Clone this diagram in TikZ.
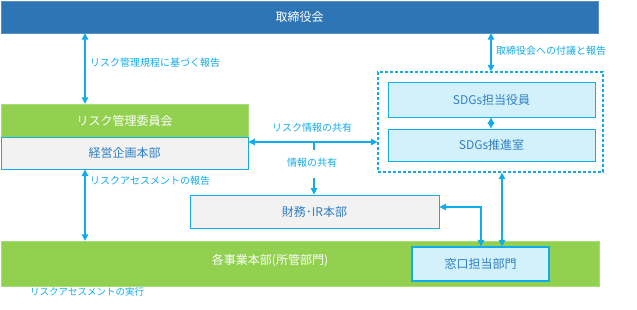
\documentclass[tikz,border=0pt]{standalone}
\usepackage{fontspec}
\setmainfont{Noto Sans CJK JP}
\usetikzlibrary{arrows.meta}
\definecolor{topblue}{HTML}{2E75B6}
\definecolor{grn}{HTML}{92D050}
\definecolor{grnb}{HTML}{A9DC78}
\definecolor{cyanl}{HTML}{12ACEB}
\definecolor{lblue}{HTML}{D3F1FB}
\definecolor{gry}{HTML}{F2F2F2}
\definecolor{txtb}{HTML}{2F7FC4}
\tikzset{
  box/.style={draw, rectangle, inner sep=0pt, font=\fontsize{12}{14}\selectfont},
  wbox/.style={box, text=white},
  bbox/.style={box, text=txtb},
  lab/.style={font=\fontsize{10}{12}\selectfont, text=cyanl, inner sep=0pt},
  conn/.style={draw=cyanl, line width=1.2pt},
  dbl/.style={conn, {Triangle[width=6.5pt,length=6.5pt]}-{Triangle[width=6.5pt,length=6.5pt]}},
  sgl/.style={conn, -{Triangle[width=6.5pt,length=6.5pt]}},
}
\begin{document}
\begin{tikzpicture}[x=1pt,y=-1pt]
\useasboundingbox[fill=white] (0,0) rectangle (637,309);
% boxes
\node[wbox, fill=topblue, draw=topblue!80!white, minimum width=597pt, minimum height=32pt] (board) at (299.5,17) {取締役会};
\node[wbox, fill=grn, draw=grnb, minimum width=247pt, minimum height=33pt] (rmc) at (124.5,120.5) {リスク管理委員会};
\node[bbox, fill=gry, draw=cyanl, line width=1pt, minimum width=247pt, minimum height=32pt] (keiei) at (124.5,153) {経営企画本部};
\node[draw=cyanl, dashed, dash pattern=on 3pt off 2pt, line width=1.2pt, rectangle, minimum width=225pt, minimum height=100pt, inner sep=0pt] (dash) at (490.5,122) {};
\node[bbox, fill=lblue, draw=cyanl, line width=1pt, minimum width=207pt, minimum height=35pt] (sdg1) at (491.5,99.5) {SDGs担当役員};
\node[bbox, fill=lblue, draw=cyanl, line width=1pt, minimum width=207pt, minimum height=32pt] (sdg2) at (491.5,145) {SDGs推進室};
\node[bbox, fill=gry, draw=cyanl, line width=1pt, minimum width=249pt, minimum height=33pt] (zaimu) at (314.5,211.5) {財務･IR本部};
\node[box, fill=grn, draw=grnb, minimum width=598pt, minimum height=45pt] (jigyo) at (300,263.5) {};
\node[text=white, font=\fontsize{12}{14}\selectfont, inner sep=0pt] (jigyot) at (270,261) {各事業本部(所管部門)};
\node[bbox, fill=lblue, draw=cyanl, line width=1.2pt, minimum width=137pt, minimum height=34pt] (mado) at (480.5,264) {窓口担当部門};
% helper coordinates
\coordinate (xL) at (85,0);
\coordinate (xR) at (491,0);
\coordinate (yA) at (0,142);
\coordinate (br) at (314,142);
\coordinate (brend) at (314,150);
\coordinate (brstart) at (314,178);
\coordinate (yZ) at (0,207);
\coordinate (xM) at (481,0);
\coordinate (xN) at (502,0);
% labels
\node[lab, anchor=west] (l1) at (90,63) {リスク管理規程に基づく報告};
\node[lab, anchor=west] (l2) at (496,51) {取締役会への付議と報告};
\node[lab] (l3) at (312,128) {リスク情報の共有};
\node[lab] (info) at (312,163) {情報の共有};
\node[lab, anchor=west] (l5) at (90,181) {リスクアセスメントの報告};
\node[lab, anchor=west, font=\fontsize{9.5}{11}\selectfont] (l6) at (30,292) {リスクアセスメントの実行};
% connectors
\draw[dbl] (board.south -| xL) -- (rmc.north -| xL);
\draw[dbl] (board.south -| xR) -- (dash.north -| xR);
\draw[dbl] (sdg1.south -| xR) -- (sdg2.north -| xR);
\draw[dbl] (keiei.east |- yA) -- (dash.west |- yA);
\draw[conn] (br) -- (brend);
\draw[sgl] (brstart) -- (zaimu.north -| brstart);
\draw[dbl] (keiei.south -| xL) -- (jigyo.north -| xL);
\draw[dbl] (zaimu.east |- yZ) -| (mado.north -| xM);
\draw[dbl] (dash.south -| xN) -- (mado.north -| xN);
\end{tikzpicture}
\end{document}
